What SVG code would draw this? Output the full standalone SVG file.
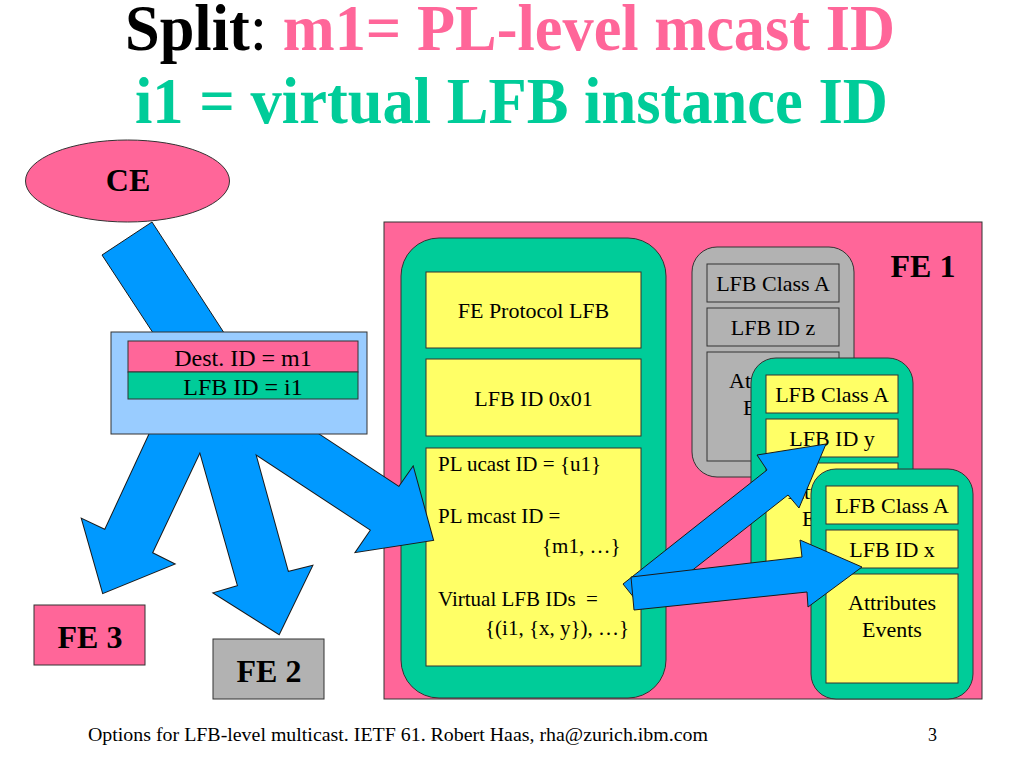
<svg xmlns="http://www.w3.org/2000/svg" xmlns:xlink="http://www.w3.org/1999/xlink" width="1024" height="768" viewBox="0 0 1024 768" font-family="'Liberation Serif', 'DejaVu Serif', serif">
<style>
text{font-family:'Liberation Serif','DejaVu Serif','Noto Serif',serif;fill:#000}
.t{font-size:22px;text-anchor:middle}
.l{font-size:21px}
.fe{font-size:32px;font-weight:bold;text-anchor:middle}
.ln{stroke:#333;stroke-width:1}
.pink{fill:#FF6699}
.green{fill:#00CC99}
.yellow{fill:#FFFF66}
.grey{fill:#B2B2B2}
.lblue{fill:#99CCFF}
.arrow{fill:#0099FF;stroke:#1a1a1a;stroke-width:1;stroke-linejoin:miter}
.ustroke{fill:#0099FF;stroke:#1a1a1a;stroke-width:2;stroke-linejoin:miter}
.ufill{fill:#0099FF;stroke:none}
</style>
<defs>
<polygon id="aL" points="156,420 215,420 152,553 174,564 103,593 82,519 105,530"/>
<polygon id="aM" points="191,420 238,586 214,593 279,634 312,566 288,572 246,420"/>
<polygon id="aR" points="297,420 399,487 413,467 433,540 356,552 371,530 204,420"/>
</defs>

<rect width="1024" height="768" fill="#fff"/>

<g id="title">
<text x="125" y="50" font-size="65" textLength="770" lengthAdjust="spacingAndGlyphs"><tspan font-weight="bold">Split</tspan><tspan>:</tspan><tspan font-weight="bold" style="fill:#FF6699"> m1= PL-level mcast ID</tspan></text>
<text x="135" y="123" font-size="65" font-weight="bold" style="fill:#00CC99" textLength="753" lengthAdjust="spacingAndGlyphs">i1 = virtual LFB instance ID</text>
</g>

<g id="fe1">
<rect class="pink ln" x="384" y="222" width="598" height="477"/>
<text class="fe" x="923" y="277">FE 1</text>
</g>

<g id="fe-protocol-panel">
<rect class="green ln" x="401" y="238" width="265" height="460" rx="38" ry="38"/>
<rect class="yellow ln" x="426" y="272" width="215" height="76"/>
<text class="t" x="533.5" y="318">FE Protocol LFB</text>
<rect class="yellow ln" x="426" y="359" width="215" height="77"/>
<text class="t" x="533.5" y="406">LFB ID 0x01</text>
<rect class="yellow ln" x="426" y="448" width="215" height="218"/>
<text class="l" x="438" y="471">PL ucast ID = {u1}</text>
<text class="l" x="438" y="523">PL mcast ID =</text>
<text class="l" x="542" y="553">{m1, …}</text>
<text class="l" x="438" y="606" xml:space="preserve">Virtual LFB IDs  =</text>
<text class="l" x="485" y="635">{(i1, {x, y}), …}</text>
</g>

<g id="lfb-z" transform="translate(692,247)">
<rect class="grey ln" x="0" y="0" width="162" height="230" rx="25" ry="25"/>
<rect class="grey ln" x="15" y="17" width="132" height="38"/>
<text class="t" x="81" y="44">LFB Class A</text>
<rect class="grey ln" x="15" y="61" width="132" height="38"/>
<text class="t" x="81" y="88">LFB ID z</text>
<rect class="grey ln" x="15" y="105" width="132" height="109"/>
<text class="t" x="81" y="141">Attributes</text>
<text class="t" x="81" y="168">Events</text>
</g>

<g id="lfb-y" transform="translate(751,358)">
<rect class="green ln" x="0" y="0" width="162" height="230" rx="25" ry="25"/>
<rect class="yellow ln" x="15" y="17" width="132" height="38"/>
<text class="t" x="81" y="44">LFB Class A</text>
<rect class="yellow ln" x="15" y="61" width="132" height="38"/>
<text class="t" x="81" y="88">LFB ID y</text>
<rect class="yellow ln" x="15" y="105" width="132" height="109"/>
<text class="t" x="81" y="141">Attributes</text>
<text class="t" x="81" y="168">Events</text>
</g>

<g id="lfb-x" transform="translate(811,469)">
<rect class="green ln" x="0" y="0" width="162" height="230" rx="25" ry="25"/>
<rect class="yellow ln" x="15" y="17" width="132" height="38"/>
<text class="t" x="81" y="44">LFB Class A</text>
<rect class="yellow ln" x="15" y="61" width="132" height="38"/>
<text class="t" x="81" y="88">LFB ID x</text>
<rect class="yellow ln" x="15" y="105" width="132" height="109"/>
<text class="t" x="81" y="141">Attributes</text>
<text class="t" x="81" y="168">Events</text>
</g>

<g id="fe3">
<rect class="pink ln" x="34" y="605" width="111" height="60"/>
<text class="fe" x="90" y="648">FE 3</text>
</g>

<g id="fe2">
<rect class="grey ln" x="213" y="639" width="111" height="60"/>
<text class="fe" x="269" y="682">FE 2</text>
</g>

<g id="ce">
<ellipse class="pink ln" cx="127.5" cy="181" rx="102" ry="41"/>
<text class="fe" x="128" y="191">CE</text>
</g>

<g id="connectors">
<polygon class="arrow" points="102,255 152,222 230,342 159,342"/>
<use xlink:href="#aL" class="ustroke"/>
<use xlink:href="#aM" class="ustroke"/>
<use xlink:href="#aR" class="ustroke"/>
<use xlink:href="#aL" class="ufill"/>
<use xlink:href="#aM" class="ufill"/>
<use xlink:href="#aR" class="ufill"/>
</g>

<g id="packet">
<rect class="lblue ln" x="111" y="332" width="256" height="102"/>
<rect class="pink ln" x="128" y="341" width="230" height="31"/>
<text class="t" style="font-size:24px" x="243" y="366">Dest. ID = m1</text>
<rect class="green ln" x="128" y="372" width="230" height="27"/>
<text class="t" style="font-size:24px" x="243" y="395">LFB ID = i1</text>
</g>

<g id="connectors-internal">
<polygon class="arrow" points="623,584 767,470 757,455 826,444 799,508 788,495 643,609"/>
<polygon class="arrow" points="631,577 802,557 800,540 862,567 808,607 807,592 634,610"/>
</g>

<g id="footer">
<text x="88" y="741" font-size="18" textLength="620" lengthAdjust="spacingAndGlyphs">Options for LFB-level multicast. IETF 61. Robert Haas, rha@zurich.ibm.com</text>
<text x="928" y="741" font-size="18">3</text>
</g>
</svg>
